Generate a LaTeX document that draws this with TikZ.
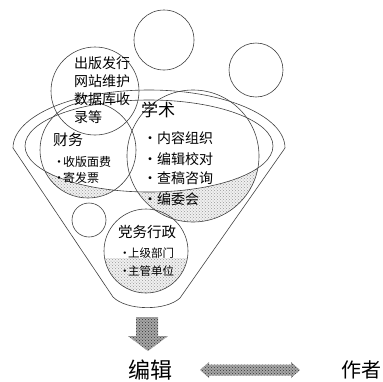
\documentclass[tikz,border=0pt]{standalone}
\usepackage{fontspec}
\setmainfont{Noto Sans CJK SC}
\usetikzlibrary{patterns}
\tikzset{
  ring/.style={draw=black!75, line width=0.6pt},
  dotted fill/.style={fill=black!6, postaction={pattern=crosshatch dots, pattern color=black!40}},
  blockarrow/.style={fill=black!35, postaction={pattern=crosshatch dots, pattern color=black!80}},
  item/.style={anchor=west, inner sep=0pt},
  title/.style={anchor=west, inner sep=0pt},
}
\newcommand{\bul}[1]{\makebox[#1][l]{•}}
\begin{document}
\begin{tikzpicture}[x=1pt,y=-1pt]
  \useasboundingbox (0,0) rectangle (383,381);
  % liquid in the funnel
  \begin{scope}
    \clip (88,150) circle[radius=48];
    \fill[dotted fill] (25,146) arc[start angle=180,end angle=0,x radius=124,y radius=46]
      -- (273,330) -- (25,330) -- cycle;
  \end{scope}
  \begin{scope}
    \clip (193,156) circle[radius=66];
    \fill[dotted fill] (25,146) arc[start angle=180,end angle=0,x radius=124,y radius=46]
      -- (273,330) -- (25,330) -- cycle;
  \end{scope}
  \begin{scope}
    \clip (146,251) circle[radius=42];
    \fill[dotted fill] (90,258) rectangle (200,300);
  \end{scope}
  % funnel
  \draw[ring] (285,148) -- (180,298) .. controls (166,311) and (127,311) .. (113,297)
    -- (13,148) arc[start angle=180,end angle=360,x radius=136,y radius=58];
  \draw[ring] (149,146) ellipse[x radius=124,y radius=46];
  % circles
  \draw[ring] (164,40) circle[radius=30];
  \draw[ring] (256,70) circle[radius=27];
  \draw[ring] (95,91) circle[radius=44];
  \draw[ring] (88,150) circle[radius=48];
  \draw[ring] (193,156) circle[radius=66];
  \draw[ring] (89,220) circle[radius=17];
  \draw[ring] (146,251) circle[radius=42];
  % texts
  \node[anchor=north west, align=left, inner sep=0pt, font=\fontsize{14}{18}\selectfont]
    (chuban) at (74,56) {出版发行\\网站维护\\数据库收\\录等};
  \node[title, font=\fontsize{17}{17}\selectfont] (xueshu) at (141,110) {学术};
  \node[item, font=\fontsize{14}{14}\selectfont] (xs1) at (143,138) {\bul{14pt}内容组织};
  \node[item, font=\fontsize{14}{14}\selectfont] (xs2) at (143,159) {\bul{14pt}编辑校对};
  \node[item, font=\fontsize{14}{14}\selectfont] (xs3) at (143,178) {\bul{14pt}查稿咨询};
  \node[item, font=\fontsize{14}{14}\selectfont] (xs4) at (143,199) {\bul{14pt}编委会};
  \node[title, font=\fontsize{15}{15}\selectfont] (caiwu) at (53,140) {财务};
  \node[item, font=\fontsize{12}{12}\selectfont] (cw1) at (53,162) {\bul{10pt}收版面费};
  \node[item, font=\fontsize{12}{12}\selectfont] (cw2) at (53,178) {\bul{10pt}寄发票};
  \node[title, font=\fontsize{14.5}{14.5}\selectfont] (dangwu) at (118,232) {党务行政};
  \node[item, font=\fontsize{11.5}{11.5}\selectfont] (dw1) at (119,253) {\bul{9pt}上级部门};
  \node[item, font=\fontsize{11.5}{11.5}\selectfont] (dw2) at (119,271) {\bul{9pt}主管单位};
  \node[inner sep=0pt, font=\fontsize{22}{22}\selectfont] (bianji) at (150,370) {编辑};
  \node[anchor=east, inner sep=0pt, font=\fontsize{20}{20}\selectfont] (zuozhe) at (382,370) {作者};
  % arrows
  \fill[blockarrow] (136,317) -- (158,317) -- (158,336) -- (168,336) -- (148,351)
    -- (128,336) -- (136,336) -- cycle;
  \fill[blockarrow] (200,370) -- (209,362) -- (209,364.5) -- (291,364.5) -- (291,362)
    -- (300,370) -- (291,378) -- (291,375.5) -- (209,375.5) -- (209,378) -- cycle;
\end{tikzpicture}
\end{document}
